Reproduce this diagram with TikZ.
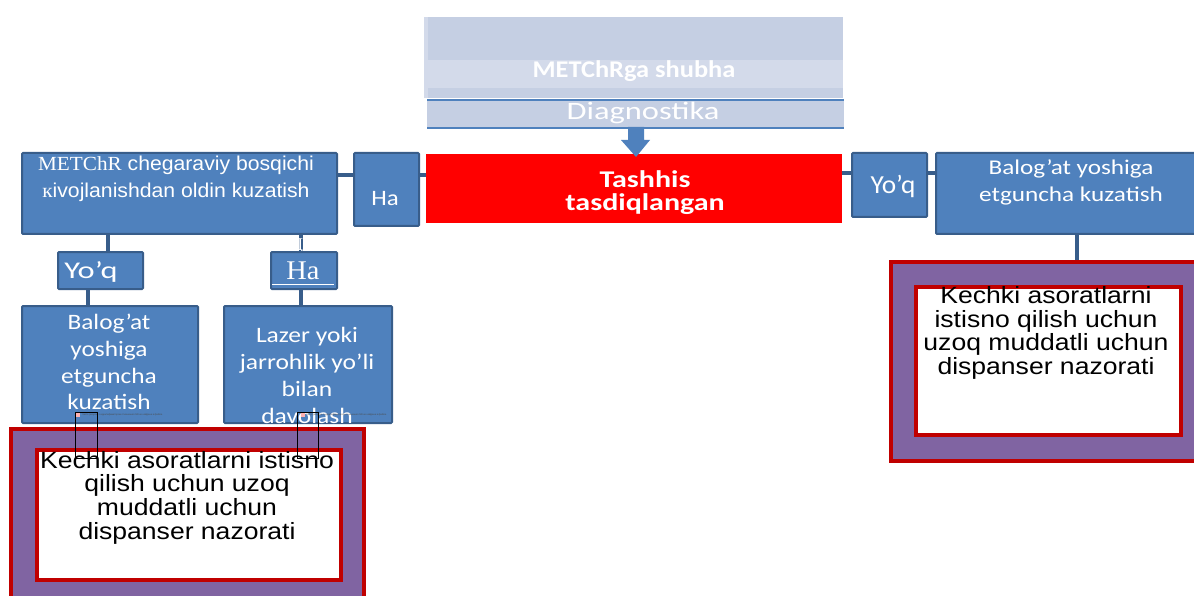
\documentclass[tikz,border=0pt]{standalone}
\usepackage{fontspec}
\setmainfont{Liberation Sans}
\newfontfamily\calfont{Carlito}
\newfontfamily\tmsfont{Liberation Serif}
\newfontfamily\ruserif{Liberation Serif}
\newfontfamily\arialwide{Liberation Sans}[FakeStretch=1.13]
\newcommand{\cstretch}[1]{\addfontfeature{FakeStretch=#1}}
\definecolor{bfill}{HTML}{4F81BD}
\definecolor{bedge}{HTML}{385D8A}
\definecolor{lgray}{HTML}{C5CFE3}
\definecolor{lband}{HTML}{D3DAEA}
\definecolor{purp}{HTML}{8064A2}
\definecolor{dred}{HTML}{C00000}
\begin{document}
\begin{tikzpicture}[x=1pt,y=-1pt,
  bluebox/.style={draw=bedge,fill=bfill,line width=2pt,rounded corners=1pt,anchor=north west,inner sep=0pt},
  wtext/.style={text=white,align=center,inner sep=0pt},
  conn/.style={draw=bedge,line width=3.5pt},
  purpbox/.style={draw=dred,fill=purp,line width=3.5pt,anchor=north west,inner sep=0pt},
  whitebox/.style={draw=dred,fill=white,line width=3.5pt,anchor=north west,inner sep=0pt},
  ktext/.style={align=center,inner sep=0pt,font=\arialwide\fontsize{23.5}{23.7}\selectfont},
  broken/.style={draw=black,line width=1.3pt,anchor=north west,inner sep=0pt},
  tiny/.style={font=\fontsize{2.4}{3}\selectfont,text=black!70,anchor=west,inner sep=0pt}
]
\useasboundingbox (0,0) rectangle (1194,596);
\fill[white] (0,0) rectangle (1194,596);

% top light block
\node[fill=lband,minimum width=419pt,minimum height=81pt,anchor=north west,inner sep=0pt] (top) at (424,17) {};
\fill[lgray] (428,17) rectangle (843,60);
\fill[lgray] (428,88) rectangle (843,98);
\node[wtext,font=\calfont\bfseries\cstretch{1.1}\fontsize{24}{26}\selectfont] (ttop) at (634,71) {METChRga shubha};
\node[fill=lgray,minimum width=417pt,minimum height=28pt,anchor=north west,inner sep=0pt] (diag) at (427,100) {};
\draw[bfill,line width=2pt] (diag.north west) -- (diag.north east);
\draw[bfill,line width=2pt] (diag.south west) -- (diag.south east);
\node[wtext,font=\calfont\cstretch{1.3}\fontsize{25}{27}\selectfont] (tdiag) at (643,113) {Diagnostika};

% red confirmed box
\node[fill=red,minimum width=416pt,minimum height=69pt,anchor=north west,inner sep=0pt] (red) at (426,154) {};
\node[wtext,font=\calfont\bfseries\cstretch{1.25}\fontsize{24}{23}\selectfont] (tred) at (645,193) {Tashhis\\tasdiqlangan};

% arrow
\fill[bfill] (628,127) -- (644,127) -- (644,140) -- (650,140) -- (636,157) -- (621,140) -- (628,140) -- cycle;

% left big box
\node[bluebox,minimum width=315pt,minimum height=81pt] (lbig) at (21,152) {};
\node[wtext,font=\addfontfeature{FakeStretch=1.06}\fontsize{20}{27}\selectfont] (tlbig) at (176,179) {{\tmsfont\addfontfeature{FakeStretch=1.06} METChR} chegaraviy bosqichi\\{\ruserif\addfontfeature{FakeStretch=1.06}к}ivojlanishdan oldin kuzatish};

% Ha top
\node[bluebox,minimum width=65pt,minimum height=73pt] (hatop) at (353,152) {};
\node[wtext,font=\calfont\cstretch{1.13}\fontsize{22}{24}\selectfont] (thatop) at (385,199) {Ha};

% Yo'q top right
\node[bluebox,minimum width=75pt,minimum height=64pt] (yqtop) at (851,152) {};
\node[wtext,font=\calfont\cstretch{1.05}\fontsize{26}{28}\selectfont] (tyqtop) at (893,186) {Yo’q};

% right big box
\node[bluebox,minimum width=262pt,minimum height=81pt] (rbig) at (935,152) {};
\node[wtext,font=\calfont\cstretch{1.2}\fontsize{21}{27}\selectfont] (trbig) at (1071,182) {Balog’at yoshiga\\etguncha kuzatish};

% horizontal connectors
\coordinate (h1) at (0,175);
\coordinate (h2) at (0,173);
\draw[conn] (lbig.east |- h1) -- (hatop.west |- h1);
\draw[conn] (hatop.east |- h1) -- (red.west |- h1);
\draw[conn] (red.east |- h2) -- (yqtop.west |- h2);
\draw[conn] (yqtop.east |- h2) -- (rbig.west |- h2);

% right purple
\node[purpbox,minimum width=310pt,minimum height=199pt] (rpurp) at (889,260) {};
\node[whitebox,minimum width=265pt,minimum height=148pt] (rwhite) at (914,285) {};
\node[ktext] (trwhite) at (1046,333) {Kechki asoratlarni\\istisno qilish uchun\\uzoq muddatli uchun\\dispanser nazorati};
\coordinate (v5) at (1077,0);
\draw[conn] (rbig.south -| v5) -- (rpurp.north -| v5);

% left second level
\coordinate (v1) at (108,0);
\coordinate (v2) at (301,0);
\coordinate (v3) at (88,0);
\node[bluebox,minimum width=85pt,minimum height=37pt] (yql) at (57,251) {};
\node[wtext,font=\calfont\cstretch{1.35}\fontsize{24}{26}\selectfont] (tyql) at (91,272) {Yo’q};
\draw[conn] (lbig.south -| v1) -- (yql.north -| v1);
\coordinate (hn) at (301,251);
\draw[conn] (lbig.south -| v2) -- (hn);
\node[wtext,font=\ruserif\fontsize{18}{18}\selectfont] (da) at (301,247) {Да};
\node[bluebox,minimum width=66pt,minimum height=37pt] (hal) at (270,251) {};
\node[wtext,font=\tmsfont\cstretch{1.05}\fontsize{27}{28}\selectfont] (thal) at (303,271) {Ha};
\draw[white,line width=1.2pt] (272,284.5) -- (334,284.5);

% third level
\node[bluebox,minimum width=176pt,minimum height=117pt] (balog) at (21,305) {};
\node[wtext,font=\calfont\cstretch{1.15}\fontsize{22}{26.7}\selectfont] (tbalog) at (109,362) {Balog’at\\yoshiga\\etguncha\\kuzatish};
\node[bluebox,minimum width=168pt,minimum height=117pt] (lazer) at (223,305) {};
\node[wtext,font=\calfont\cstretch{1.16}\fontsize{22}{27}\selectfont] (tlazer) at (307,375.5) {Lazer yoki\\jarrohlik yo’li\\bilan\\davolash};
\draw[conn] (yql.south -| v3) -- (balog.north -| v3);
\draw[conn] (hal.south -| v2) -- (lazer.north -| v2);

% left purple
\node[purpbox,minimum width=353pt,minimum height=180pt] (lpurp) at (9,427) {};
\node[whitebox,minimum width=304pt,minimum height=130pt] (lwhite) at (35,448) {};
\node[ktext] (tlwhite) at (187,497.5) {Kechki asoratlarni istisno\\qilish uchun uzoq\\muddatli uchun\\dispanser nazorati};

% broken picture placeholders
\fill[red!30] (76,413) rectangle (79.5,417);
\node[tiny] (bt1) at (82,415) {Часть рисунка с идентификатором отношения rId3 не найдена в файле.};
\fill[red!30] (301,413) rectangle (304.5,417);
\node[tiny] (bt2) at (306,415) {Часть рисунка с идентификатором отношения rId3 не найдена в файле.};
\node[broken,minimum width=22pt,minimum height=46pt] (br1) at (75,412) {};
\node[broken,minimum width=21pt,minimum height=46pt] (br2) at (297,412) {};
\end{tikzpicture}
\end{document}
